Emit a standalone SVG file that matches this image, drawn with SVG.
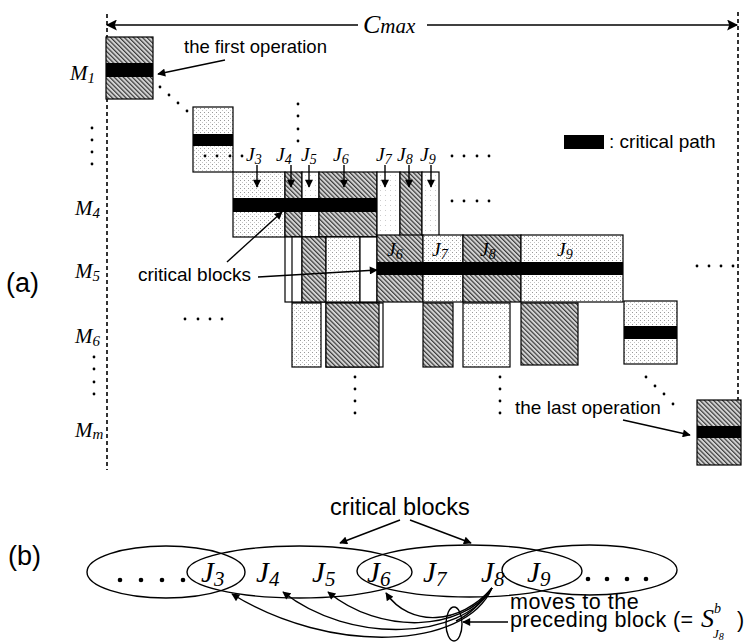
<svg xmlns="http://www.w3.org/2000/svg" width="751" height="642" viewBox="0 0 751 642">
<style>
.sans{font-family:"Liberation Sans",Arial,sans-serif;fill:#000}
.ser{font-family:"Liberation Serif","Times New Roman",serif;font-style:italic;fill:#000}
.box{stroke:#000;stroke-width:1.2}
.h{fill:url(#hatch)}
.s{fill:url(#stip)}
.w{fill:url(#stip2)}
.bar{fill:#000}
.dash{stroke:#000;stroke-width:1.6;stroke-dasharray:4 3;fill:none}
.ln{stroke:#000;stroke-width:1.4;fill:none}
.dot{fill:#000}
.ell{fill:none;stroke:#000;stroke-width:1.4}
</style>
<defs>
<pattern id="hatch" patternUnits="userSpaceOnUse" width="3.2" height="3.2" patternTransform="rotate(-45)">
<rect width="3.2" height="3.2" fill="#d4d4d4"/><rect width="1.2" height="3.2" fill="#3a3a3a"/>
</pattern>
<pattern id="stip" patternUnits="userSpaceOnUse" width="4" height="4">
<rect width="4" height="4" fill="#fff"/><rect width="1" height="1" fill="#999"/><rect x="2" y="2" width="1" height="1" fill="#c4c4c4"/>
</pattern>
<pattern id="stip2" patternUnits="userSpaceOnUse" width="5" height="5">
<rect width="5" height="5" fill="#fff"/><rect width="1" height="1" fill="#ccc"/>
</pattern>
<marker id="ah" viewBox="0 0 10 10" refX="9" refY="5" markerWidth="10" markerHeight="8" markerUnits="userSpaceOnUse" orient="auto-start-reverse">
<path d="M0,0 L10,5 L0,10 z" fill="#000"/>
</marker>
<marker id="ahb" viewBox="0 0 10 10" refX="9" refY="5" markerWidth="16" markerHeight="11" markerUnits="userSpaceOnUse" orient="auto-start-reverse">
<path d="M0,0 L10,5 L0,10 L2,5 z" fill="#000"/>
</marker>
</defs>
<rect width="751" height="642" fill="#fff"/>

<!-- time axis -->
<g id="axis">
<line class="dash" x1="107" y1="14" x2="107" y2="470"/>
<line class="dash" x1="738" y1="12" x2="738" y2="400"/>
<text class="ser" x="363" y="33"><tspan font-size="26">C</tspan><tspan font-size="21">max</tspan></text>
</g>

<!-- machine labels -->
<g id="machine-labels">
<text class="ser" x="70" y="80" font-size="21">M<tspan font-size="15" dy="3">1</tspan></text>
<text class="ser" x="75" y="215" font-size="21">M<tspan font-size="15" dy="3">4</tspan></text>
<text class="ser" x="75" y="278" font-size="21">M<tspan font-size="15" dy="3">5</tspan></text>
<text class="ser" x="75" y="343" font-size="21">M<tspan font-size="15" dy="3">6</tspan></text>
<text class="ser" x="75" y="437" font-size="21">M<tspan font-size="15" dy="2">m</tspan></text>
<circle class="dot" cx="92" cy="128" r="1.4"/><circle class="dot" cx="92" cy="140" r="1.4"/><circle class="dot" cx="92" cy="152" r="1.4"/><circle class="dot" cx="92" cy="164" r="1.4"/>
<circle class="dot" cx="94" cy="357" r="1.4"/><circle class="dot" cx="94" cy="369" r="1.4"/><circle class="dot" cx="94" cy="382" r="1.4"/><circle class="dot" cx="94" cy="394" r="1.4"/>
<text class="sans" x="6" y="292" font-size="27">(a)</text>
<text class="sans" x="8" y="565" font-size="27">(b)</text>
</g>

<!-- first operation -->
<g id="op-first">
<rect class="box h" x="106" y="37" width="47" height="62"/>
<rect class="bar" x="106" y="63" width="47" height="14"/>
<text class="sans" x="184" y="53" font-size="18.5">the first operation</text>
</g>
<g id="diag-dots-1">
<circle class="dot" cx="160" cy="87" r="1.4"/><circle class="dot" cx="169" cy="95" r="1.4"/><circle class="dot" cx="178" cy="103" r="1.4"/><circle class="dot" cx="187" cy="111" r="1.4"/>
</g>

<!-- second machine op -->
<g id="op-m2">
<rect class="box s" x="193" y="107" width="40" height="65"/>
<rect class="bar" x="193" y="134" width="40" height="12"/>
<circle class="dot" cx="205" cy="156" r="1.4"/><circle class="dot" cx="217" cy="156" r="1.4"/><circle class="dot" cx="230" cy="156" r="1.4"/><circle class="dot" cx="242" cy="156" r="1.4"/>
</g>
<g id="vdots-top">
<circle class="dot" cx="298" cy="104" r="1.4"/><circle class="dot" cx="298" cy="116" r="1.4"/><circle class="dot" cx="298" cy="129" r="1.4"/><circle class="dot" cx="298" cy="141" r="1.4"/>
</g>

<!-- M4 row -->
<g id="row-m4">
<rect class="box s" x="233" y="172" width="52" height="65"/>
<rect class="box h" x="285" y="172" width="17" height="65"/>
<rect class="box w" x="302" y="172" width="17" height="65"/>
<rect class="box h" x="319" y="172" width="58" height="65"/>
<rect class="box w" x="377" y="172" width="23" height="65"/>
<rect class="box h" x="400" y="172" width="22" height="65"/>
<rect class="box w" x="422" y="172" width="17" height="65"/>
<rect class="bar" x="233" y="198" width="144" height="14"/>
<text class="ser" font-size="19.5" y="161"><tspan x="246">J</tspan><tspan font-size="14" dy="3">3</tspan></text>
<text class="ser" font-size="19.5" y="161"><tspan x="276">J</tspan><tspan font-size="14" dy="3">4</tspan></text>
<text class="ser" font-size="19.5" y="161"><tspan x="301">J</tspan><tspan font-size="14" dy="3">5</tspan></text>
<text class="ser" font-size="19.5" y="161"><tspan x="333">J</tspan><tspan font-size="14" dy="3">6</tspan></text>
<text class="ser" font-size="19.5" y="161"><tspan x="376">J</tspan><tspan font-size="14" dy="3">7</tspan></text>
<text class="ser" font-size="19.5" y="161"><tspan x="397">J</tspan><tspan font-size="14" dy="3">8</tspan></text>
<text class="ser" font-size="19.5" y="161"><tspan x="420">J</tspan><tspan font-size="14" dy="3">9</tspan></text>
<circle class="dot" cx="452" cy="156" r="1.4"/><circle class="dot" cx="464" cy="156" r="1.4"/><circle class="dot" cx="477" cy="156" r="1.4"/><circle class="dot" cx="489" cy="156" r="1.4"/>
<circle class="dot" cx="452" cy="201" r="1.4"/><circle class="dot" cx="464" cy="201" r="1.4"/><circle class="dot" cx="477" cy="201" r="1.4"/><circle class="dot" cx="489" cy="201" r="1.4"/>
</g>

<!-- legend -->
<g id="legend">
<rect class="bar" x="564" y="135" width="40" height="14"/>
<text class="sans" x="609" y="148" font-size="19">: critical path</text>
</g>

<!-- M5 row -->
<g id="row-m5">
<rect class="box" fill="#fff" x="285" y="237" width="92" height="65"/>
<rect class="box" fill="#fff" x="292" y="237" width="10" height="65"/>
<rect class="box h" x="302" y="237" width="24" height="65"/>
<rect class="box s" x="326" y="237" width="34" height="65"/>
<rect class="box" fill="#fff" x="360" y="237" width="17" height="65"/>
<rect class="box h" x="377" y="235" width="46" height="67"/>
<rect class="box s" x="423" y="235" width="40" height="67"/>
<rect class="box h" x="463" y="235" width="58" height="67"/>
<rect class="box s" x="521" y="235" width="102" height="67"/>
<rect class="bar" x="377" y="262" width="246" height="13"/>
<text class="ser" font-size="19.5" y="256"><tspan x="387">J</tspan><tspan font-size="14" dy="3">6</tspan></text>
<text class="ser" font-size="19.5" y="256"><tspan x="432">J</tspan><tspan font-size="14" dy="3">7</tspan></text>
<text class="ser" font-size="19.5" y="256"><tspan x="480">J</tspan><tspan font-size="14" dy="3">8</tspan></text>
<text class="ser" font-size="19.5" y="256"><tspan x="557">J</tspan><tspan font-size="14" dy="3">9</tspan></text>
<circle class="dot" cx="697" cy="266" r="1.4"/><circle class="dot" cx="709" cy="266" r="1.4"/><circle class="dot" cx="721" cy="266" r="1.4"/><circle class="dot" cx="733" cy="266" r="1.4"/>
<text class="sans" x="138" y="281" font-size="19">critical blocks</text>
</g>

<!-- M6 row -->
<g id="row-m6">
<rect class="box s" x="292" y="303" width="29" height="64"/>
<rect class="box" fill="#fff" x="326" y="303" width="57" height="64"/>
<rect class="box h" x="326" y="303" width="53" height="64"/>
<rect class="box h" x="423" y="303" width="30" height="64"/>
<rect class="box s" x="463" y="303" width="47" height="64"/>
<rect class="box h" x="521" y="303" width="57" height="62"/>
<rect class="box s" x="624" y="301" width="53" height="63"/>
<rect class="bar" x="624" y="326" width="53" height="13"/>
<circle class="dot" cx="185" cy="319" r="1.4"/><circle class="dot" cx="198" cy="319" r="1.4"/><circle class="dot" cx="210" cy="319" r="1.4"/><circle class="dot" cx="222" cy="319" r="1.4"/>
<circle class="dot" cx="355" cy="377" r="1.4"/><circle class="dot" cx="355" cy="389" r="1.4"/><circle class="dot" cx="355" cy="401" r="1.4"/><circle class="dot" cx="355" cy="413" r="1.4"/>
<circle class="dot" cx="500" cy="377" r="1.4"/><circle class="dot" cx="500" cy="389" r="1.4"/><circle class="dot" cx="500" cy="401" r="1.4"/><circle class="dot" cx="500" cy="413" r="1.4"/>
<circle class="dot" cx="646" cy="377" r="1.4"/><circle class="dot" cx="655" cy="386" r="1.4"/><circle class="dot" cx="664" cy="394" r="1.4"/><circle class="dot" cx="673" cy="404" r="1.4"/>
</g>

<!-- last operation -->
<g id="op-last">
<rect class="box h" x="697" y="400" width="44" height="65"/>
<rect class="bar" x="697" y="426" width="44" height="12"/>
<text class="sans" x="515" y="414" font-size="19">the last operation</text>
</g>

<!-- part (b) -->
<g id="block-1"><ellipse class="ell" cx="166" cy="572" rx="79" ry="26"/></g>
<g id="block-2"><ellipse class="ell" cx="299.5" cy="572" rx="112.5" ry="26"/></g>
<g id="block-3"><ellipse class="ell" cx="469.5" cy="571" rx="112.5" ry="26"/></g>
<g id="block-4"><ellipse class="ell" cx="589.5" cy="570" rx="87.5" ry="25"/></g>
<g id="b-labels">
<text class="ser" font-size="29" y="582"><tspan x="201">J</tspan><tspan font-size="21" dy="4">3</tspan></text>
<text class="ser" font-size="29" y="582"><tspan x="256">J</tspan><tspan font-size="21" dy="4">4</tspan></text>
<text class="ser" font-size="29" y="582"><tspan x="312">J</tspan><tspan font-size="21" dy="4">5</tspan></text>
<text class="ser" font-size="29" y="582"><tspan x="367">J</tspan><tspan font-size="21" dy="4">6</tspan></text>
<text class="ser" font-size="29" y="582"><tspan x="423">J</tspan><tspan font-size="21" dy="4">7</tspan></text>
<text class="ser" font-size="29" y="582"><tspan x="481">J</tspan><tspan font-size="21" dy="4">8</tspan></text>
<text class="ser" font-size="29" y="582"><tspan x="527">J</tspan><tspan font-size="21" dy="4">9</tspan></text>
<circle class="dot" cx="120" cy="580" r="2.3"/><circle class="dot" cx="141" cy="580" r="2.3"/><circle class="dot" cx="162" cy="580" r="2.3"/><circle class="dot" cx="183" cy="580" r="2.3"/>
<circle class="dot" cx="588" cy="579" r="2.3"/><circle class="dot" cx="607" cy="579" r="2.3"/><circle class="dot" cx="627" cy="579" r="2.3"/><circle class="dot" cx="646" cy="579" r="2.3"/>
<text class="sans" x="330" y="515" font-size="23.5">critical blocks</text>
</g>
<g id="move-set">
<ellipse class="ell" cx="454" cy="624" rx="8" ry="17"/>
<text class="sans" x="510" y="609" font-size="21.5" letter-spacing="0.5">moves to the</text>
<text class="sans" x="510" y="627" font-size="21.5" letter-spacing="0.4">preceding block (=</text>
<text class="ser" x="701" y="627" font-size="26">S</text>
<text class="ser" x="714" y="613" font-size="14">b</text>
<text class="ser" x="713" y="638" font-size="13">J<tspan font-size="10" dy="2">8</tspan></text>
<text class="sans" x="737" y="627" font-size="21.5">)</text>
</g>

<!-- connectors -->
<g id="connectors">
<line x1="107" y1="25" x2="358" y2="25" class="ln" stroke-width="2" marker-start="url(#ahb)"/>
<line x1="427" y1="25" x2="737" y2="25" class="ln" stroke-width="2" marker-end="url(#ahb)"/>
<line x1="225" y1="60" x2="158" y2="74" class="ln" marker-end="url(#ah)"/>
<line x1="257" y1="165" x2="257" y2="187" class="ln" marker-end="url(#ah)"/>
<line x1="291" y1="165" x2="291" y2="187" class="ln" marker-end="url(#ah)"/>
<line x1="309" y1="165" x2="309" y2="187" class="ln" marker-end="url(#ah)"/>
<line x1="344" y1="165" x2="344" y2="187" class="ln" marker-end="url(#ah)"/>
<line x1="385" y1="165" x2="385" y2="187" class="ln" marker-end="url(#ah)"/>
<line x1="409" y1="165" x2="409" y2="187" class="ln" marker-end="url(#ah)"/>
<line x1="431" y1="165" x2="431" y2="187" class="ln" marker-end="url(#ah)"/>
<line x1="227" y1="262" x2="282" y2="212" class="ln" marker-end="url(#ah)"/>
<line x1="258" y1="277" x2="377" y2="270" class="ln" marker-end="url(#ah)"/>
<line x1="623" y1="420" x2="690" y2="435" class="ln" marker-end="url(#ah)"/>
<line x1="400" y1="520" x2="340" y2="543" class="ln" marker-end="url(#ah)"/>
<line x1="410" y1="520" x2="471" y2="543" class="ln" marker-end="url(#ah)"/>
<line x1="508" y1="622" x2="463" y2="622" class="ln" marker-end="url(#ah)"/>
<path d="M492,588 C465,650 330,655 232,594" class="ln" marker-end="url(#ah)"/>
<path d="M492,588 C462,640 350,645 283,592" class="ln" marker-end="url(#ah)"/>
<path d="M492,588 C462,632 380,635 328,592" class="ln" marker-end="url(#ah)"/>
<path d="M492,588 C460,625 410,628 386,593" class="ln" marker-end="url(#ah)"/>
<path d="M492,588 Q475,612 456,621" class="ln" stroke-width="2.5"/>
</g>
</svg>
